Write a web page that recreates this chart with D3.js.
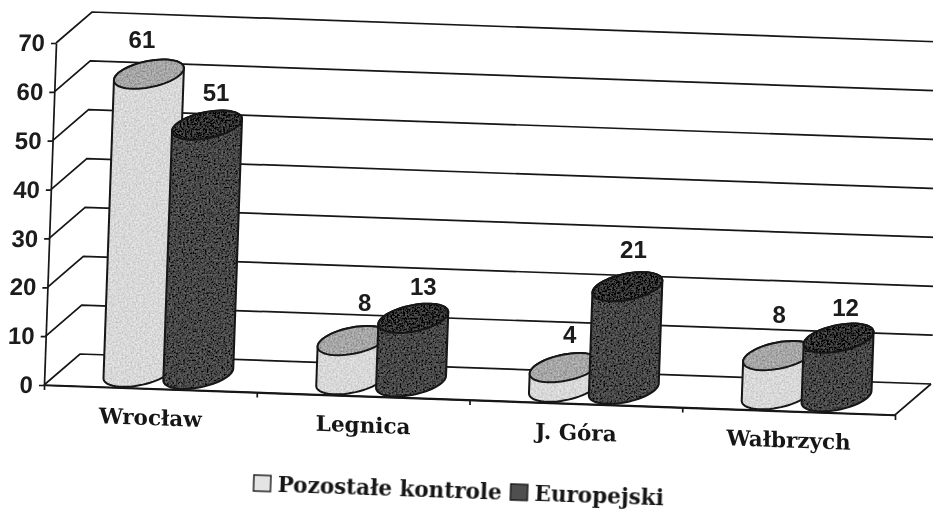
<!DOCTYPE html>
<html>
<head>
<meta charset="utf-8">
<script src="https://cdn.jsdelivr.net/npm/d3@7"></script>
<style>
    html, body { margin: 0; padding: 0; background: #fff; }
    svg { display: block; }
    .num { font-family: "Liberation Sans", sans-serif; font-weight: bold; font-size: 24px; fill: #1a1a1a; }
    .cat { font-family: "DejaVu Serif", serif; font-weight: bold; font-size: 21.5px; fill: #151515; }
    .leg { font-family: "DejaVu Serif", serif; font-weight: bold; font-size: 21.5px; fill: #151515; }
</style>
</head>
<body>
<svg id="chart" width="933" height="512"></svg>
<script>
const categories = ["Wrocław", "Legnica", "J. Góra", "Wałbrzych"];
const seriesNames = ["Pozostałe kontrole", "Europejski"];
const pozostale = [61, 8, 4, 8];
const europejski = [51, 13, 21, 12];
const yTicks = [0, 10, 20, 30, 40, 50, 60, 70];

const svg = d3.select("#chart");

// the 3d box: front-left floor corner and its three edges
const origin = [44, 385];
const alongEdge = [851, 30];
const upEdge = [12, -342];
const depthEdge = [36, -31];

const x = d3.scaleBand().domain(categories).range([0, 1]);
const xSeries = d3.scaleBand().domain(seriesNames).range([0, x.bandwidth()]).paddingInner(0).paddingOuter(0.778);
const y = d3.scaleLinear().domain([0, 70]).range([0, 1]);

function project(a, v, d) {
    return [
        origin[0] + a * alongEdge[0] + y(v) * upEdge[0] + d * depthEdge[0],
        origin[1] + a * alongEdge[1] + y(v) * upEdge[1] + d * depthEdge[1]
    ];
}

// grain filters for the scanned look, one per series
const defs = svg.append("defs");
function addGrain(id, strength) {
    const grain = defs.append("filter").attr("id", id).attr("x", 0).attr("y", 0).attr("width", 1).attr("height", 1);
    grain.append("feTurbulence").attr("type", "fractalNoise").attr("baseFrequency", 0.55).attr("numOctaves", 2).attr("seed", 4).attr("result", "n");
    grain.append("feColorMatrix").attr("in", "n").attr("type", "matrix")
        .attr("values", "1 0 0 0 0  1 0 0 0 0  1 0 0 0 0  0 0 0 0 1").attr("result", "g");
    grain.append("feComposite").attr("in", "SourceGraphic").attr("in2", "g").attr("operator", "arithmetic")
        .attr("k1", 0).attr("k2", 1).attr("k3", strength).attr("k4", -strength / 2).attr("result", "m");
    grain.append("feComposite").attr("in", "m").attr("in2", "SourceAlpha").attr("operator", "in");
}
addGrain("grainLight", 0.5);
addGrain("grainDark", 0.28);

const soft = defs.append("filter").attr("id", "soft");
soft.append("feGaussianBlur").attr("stdDeviation", 0.5);

const root = svg.append("g").attr("filter", "url(#soft)");
const ink = "#141414";

// walls
const grid = root.append("g").attr("fill", "none").attr("stroke", ink).attr("stroke-width", 1.7);
const line = d3.line();
yTicks.forEach(t => {
    grid.append("path").attr("d", line([project(0, t, 0), project(0, t, 1), project(1, t, 1)]));
});
grid.append("path").attr("d", line([project(0, 0, 0), project(1, 0, 0), project(1, 0, 1)]));

// value axis, sheared to follow the box
const yAxisScale = d3.scaleLinear().domain([0, 70]).range([0, upEdge[1]]);
const yAxis = root.append("g")
    .attr("transform", `translate(${origin[0]},${origin[1]}) skewX(${Math.atan(upEdge[0] / upEdge[1]) * 180 / Math.PI})`)
    .call(d3.axisLeft(yAxisScale).tickValues(yTicks).tickSize(5).tickSizeOuter(0).tickPadding(6));
yAxis.selectAll("path,line").attr("stroke", ink).attr("stroke-width", 1.7);
yAxis.selectAll("text").attr("class", "num").attr("font-family", null).attr("font-size", null);

// category axis
const skewAlong = Math.atan(alongEdge[1] / alongEdge[0]) * 180 / Math.PI;
const xAxisGroup = `translate(${origin[0]},${origin[1]}) skewY(${skewAlong})`;
const xTickScale = d3.scaleLinear().domain([0, 1]).range([0, alongEdge[0]]);
const xTicks = root.append("g").attr("transform", xAxisGroup)
    .call(d3.axisBottom(xTickScale).tickValues(d3.range(0, 5).map(i => i / 4)).tickSize(5).tickSizeOuter(0).tickFormat(""));
xTicks.selectAll("path,line").attr("stroke", ink).attr("stroke-width", 1.7);

const xBandPx = d3.scaleBand().domain(categories).range([0, alongEdge[0]]);
const xLabels = root.append("g").attr("transform", xAxisGroup)
    .call(d3.axisBottom(xBandPx).tickSize(0).tickPadding(21));
xLabels.select(".domain").remove();
xLabels.selectAll("text").attr("class", "cat").attr("font-family", null).attr("font-size", null);

// cylinders
const rAlong = 0.036, rDepth = 0.47;
const angles = d3.range(0, 2 * Math.PI, Math.PI / 30);

function ring(a, v) {
    return angles.map(t => project(a + rAlong * Math.cos(t), v, 0.5 + rDepth * Math.sin(t)));
}

const styles = [
    { body: "#d8d8d8", top: "#a6a6a6", grain: "url(#grainLight)" },
    { body: "#474747", top: "#2e2e2e", grain: "url(#grainDark)" }
];
const closed = d3.line().curve(d3.curveLinearClosed);
const valueSets = [pozostale, europejski];
const labelLayer = [];

categories.forEach((cat, i) => {
    seriesNames.forEach((name, s) => {
        const value = valueSets[s][i];
        const a = x(cat) + xSeries(name) + xSeries.bandwidth() / 2;
        const topRing = ring(a, value);
        const hull = d3.polygonHull(ring(a, 0).concat(topRing));
        const g = root.append("g");
        g.append("path").attr("d", closed(hull)).attr("fill", styles[s].body).attr("filter", styles[s].grain);
        g.append("path").attr("d", closed(hull)).attr("fill", "none").attr("stroke", ink).attr("stroke-width", 2);
        g.append("path").attr("d", closed(topRing)).attr("fill", styles[s].top).attr("filter", styles[s].grain);
        g.append("path").attr("d", closed(topRing)).attr("fill", "none").attr("stroke", ink).attr("stroke-width", 2);
        const c = project(a, value, 0.5);
        labelLayer.push({ value, px: c[0], py: c[1] });
    });
});

// labels were hand placed in the original chart, so each gets its own nudge
const labelNudge = [[-7, -26], [9, -24], [12, -30], [10, -23], [5, -25], [6, -29], [1, -33], [7, -22]];

root.selectAll(".val").data(labelLayer).enter().append("text")
    .attr("class", "num val")
    .attr("text-anchor", "middle")
    .attr("x", (d, i) => d.px + labelNudge[i][0])
    .attr("y", (d, i) => d.py + labelNudge[i][1])
    .text(d => d.value);

// legend
const legend = root.append("g").attr("transform", "translate(254,475) rotate(2)");
const legendX = [0, 257];
const legendItem = legend.selectAll("g").data(seriesNames).enter().append("g")
    .attr("transform", (d, i) => `translate(${legendX[i]},0)`);
legendItem.append("rect").attr("width", 17).attr("height", 16)
    .attr("fill", (d, i) => i === 0 ? "#e4e4e4" : "#505050")
    .attr("stroke", ink).attr("stroke-width", 1.4);
legendItem.append("text").attr("class", "leg").attr("x", 24).attr("y", 16).text(d => d);
</script>
</body>
</html>
